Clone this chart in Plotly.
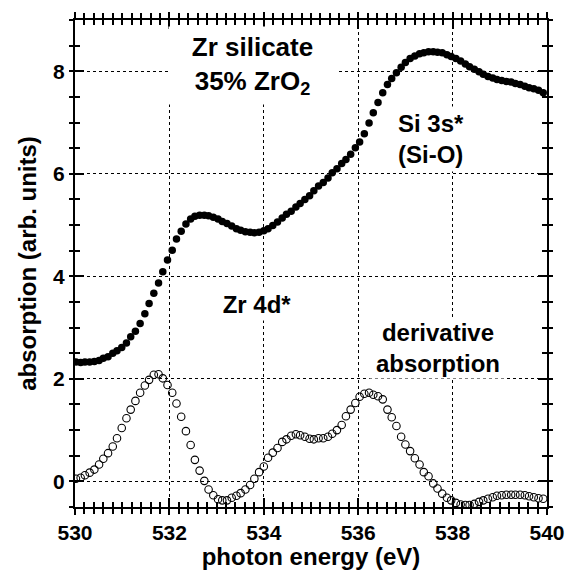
import plotly.graph_objects as go

# photon energy (eV) of each sample point
energy = [530.02, 530.12, 530.21, 530.31, 530.41, 530.51, 530.60, 530.70, 530.80, 530.89,
          530.99, 531.09, 531.18, 531.28, 531.38, 531.48, 531.57, 531.67, 531.77, 531.86,
          531.96, 532.06, 532.15, 532.25, 532.35, 532.45, 532.54, 532.64, 532.74, 532.83,
          532.93, 533.03, 533.12, 533.22, 533.32, 533.42, 533.51, 533.61, 533.71, 533.80,
          533.90, 534.00, 534.09, 534.19, 534.29, 534.39, 534.48, 534.58, 534.68, 534.77,
          534.87, 534.97, 535.06, 535.16, 535.26, 535.36, 535.45, 535.55, 535.65, 535.74,
          535.84, 535.94, 536.03, 536.13, 536.23, 536.32, 536.42, 536.52, 536.62, 536.71,
          536.81, 536.91, 537.00, 537.10, 537.20, 537.30, 537.39, 537.49, 537.59, 537.68,
          537.78, 537.88, 537.97, 538.07, 538.17, 538.27, 538.36, 538.46, 538.56, 538.65,
          538.75, 538.85, 538.94, 539.04, 539.14, 539.24, 539.33, 539.43, 539.53, 539.62,
          539.72, 539.82, 539.92]

# absorption (filled circles)
absorption = [2.33, 2.32, 2.33, 2.33, 2.34, 2.36, 2.40, 2.43, 2.50, 2.55,
              2.61, 2.70, 2.82, 2.93, 3.08, 3.27, 3.47, 3.67, 3.87, 4.09,
              4.32, 4.51, 4.73, 4.88, 5.02, 5.12, 5.17, 5.19, 5.19, 5.18,
              5.15, 5.12, 5.07, 5.03, 4.98, 4.93, 4.90, 4.87, 4.86, 4.85,
              4.86, 4.89, 4.93, 4.99, 5.06, 5.14, 5.21, 5.27, 5.35, 5.42,
              5.50, 5.57, 5.67, 5.76, 5.83, 5.92, 6.02, 6.10, 6.20, 6.28,
              6.38, 6.51, 6.62, 6.78, 6.99, 7.19, 7.39, 7.58, 7.74, 7.86,
              7.97, 8.08, 8.17, 8.25, 8.30, 8.34, 8.36, 8.38, 8.38, 8.37,
              8.36, 8.32, 8.29, 8.25, 8.20, 8.14, 8.09, 8.04, 7.99, 7.94,
              7.90, 7.87, 7.84, 7.82, 7.80, 7.79, 7.76, 7.74, 7.71, 7.68,
              7.66, 7.63, 7.58]

# derivative absorption (open circles)
derivative = [0.05, 0.07, 0.12, 0.17, 0.23, 0.33, 0.44, 0.55, 0.68, 0.84,
              1.04, 1.23, 1.40, 1.57, 1.73, 1.87, 1.98, 2.08, 2.09, 2.01,
              1.88, 1.73, 1.52, 1.26, 0.98, 0.71, 0.42, 0.21, 0.01, -0.16,
              -0.27, -0.35, -0.37, -0.37, -0.32, -0.28, -0.23, -0.16, -0.07, 0.05,
              0.18, 0.29, 0.46, 0.56, 0.65, 0.77, 0.82, 0.89, 0.92, 0.90,
              0.87, 0.83, 0.82, 0.84, 0.84, 0.87, 0.93, 1.00, 1.10, 1.27,
              1.40, 1.53, 1.65, 1.71, 1.73, 1.69, 1.66, 1.60, 1.40, 1.25,
              1.08, 0.87, 0.72, 0.59, 0.45, 0.33, 0.18, 0.10, -0.04, -0.14,
              -0.24, -0.32, -0.37, -0.42, -0.45, -0.46, -0.46, -0.44, -0.40, -0.37,
              -0.34, -0.31, -0.28, -0.27, -0.26, -0.26, -0.26, -0.26, -0.27, -0.29,
              -0.31, -0.33, -0.34]

x_range = [530, 540]
y_range = [-0.5, 9]
x_ticks = [530, 532, 534, 536, 538, 540]
y_ticks = [0, 2, 4, 6, 8]

FONT = "Liberation Sans, Arial, sans-serif"

fig = go.Figure()
fig.add_trace(go.Scatter(
    x=energy, y=absorption, mode="markers",
    marker=dict(symbol="circle", size=7.5, color="black", line=dict(width=0)),
    showlegend=False, hoverinfo="skip"))
fig.add_trace(go.Scatter(
    x=energy, y=derivative, mode="markers",
    marker=dict(symbol="circle-open", size=7.5, color="black", line=dict(width=1.1, color="black")),
    showlegend=False, hoverinfo="skip"))
# dummy trace to activate the overlay axes carrying the inner ticks
fig.add_trace(go.Scatter(x=[None], y=[None], xaxis="x2", yaxis="y2",
                         showlegend=False, hoverinfo="skip"))

tickfont = dict(family=FONT, size=21, color="black", weight="bold")
titlefont = dict(family=FONT, size=24, color="black", weight="bold")

fig.update_layout(
    width=567, height=570,
    margin=dict(l=75, r=20, t=20, b=63, autoexpand=False),
    paper_bgcolor="white", plot_bgcolor="white",
    xaxis=dict(
        range=x_range, tickvals=x_ticks, ticks="outside", ticklen=6, tickwidth=2,
        tickcolor="black", showline=True, linewidth=2, linecolor="black", mirror="ticks",
        showgrid=True, gridcolor="black", gridwidth=1, griddash="dot", zeroline=False,
        automargin=False,
        minor=dict(dtick=0.2, tick0=530, ticks="outside", ticklen=5, tickwidth=1.5,
                   tickcolor="black", showgrid=False),
        tickfont=tickfont,
        title=dict(text="photon energy (eV)", font=titlefont, standoff=8),
    ),
    yaxis=dict(
        range=y_range, tickvals=y_ticks, ticks="outside", ticklen=4, tickwidth=2,
        tickcolor="black", showline=True, linewidth=2, linecolor="black", mirror="ticks",
        showgrid=True, gridcolor="black", gridwidth=1, griddash="dot", zeroline=False,
        automargin=False,
        minor=dict(dtick=0.5, tick0=0, ticks="outside", ticklen=4, tickwidth=1.5,
                   tickcolor="black", showgrid=False),
        tickfont=tickfont,
        title=dict(text="absorption (arb. units)", font=titlefont, standoff=10),
    ),
    xaxis2=dict(
        range=x_range, overlaying="x", anchor="y2", tickvals=x_ticks, ticks="inside",
        ticklen=9, tickwidth=2, tickcolor="black", mirror="ticks", showline=False,
        showgrid=False, zeroline=False, showticklabels=False, automargin=False,
        minor=dict(dtick=0.2, tick0=530, ticks="inside", ticklen=5, tickwidth=1.5,
                   tickcolor="black", showgrid=False),
    ),
    yaxis2=dict(
        range=y_range, overlaying="y", anchor="x2", tickvals=y_ticks, ticks="inside",
        ticklen=9, tickwidth=2, tickcolor="black", mirror="ticks", showline=False,
        showgrid=False, zeroline=False, showticklabels=False, automargin=False,
        minor=dict(dtick=0.5, tick0=0, ticks="inside", ticklen=5, tickwidth=1.5,
                   tickcolor="black", showgrid=False),
    ),
)

annotations = [
    dict(text="Zr silicate<br>35% ZrO<sub>2</sub>", x=533.75, y=8.11, size=26, w=167, h=77),
    dict(text="Si 3s*<br>(Si-O)", x=537.55, y=6.67, size=24, w=84, h=64),
    dict(text="Zr 4d*", x=533.86, y=3.46, size=24, w=84, h=32),
    dict(text="derivative<br>absorption", x=537.70, y=2.60, size=24, w=136, h=60),
]
for a in annotations:
    fig.add_annotation(
        text=a["text"], x=a["x"], y=a["y"], xref="x", yref="y",
        showarrow=False, bgcolor="white", borderpad=0, width=a["w"], height=a["h"],
        align="center", valign="middle",
        font=dict(family=FONT, size=a["size"], color="black", weight="bold"))

fig.write_html("out.html")
